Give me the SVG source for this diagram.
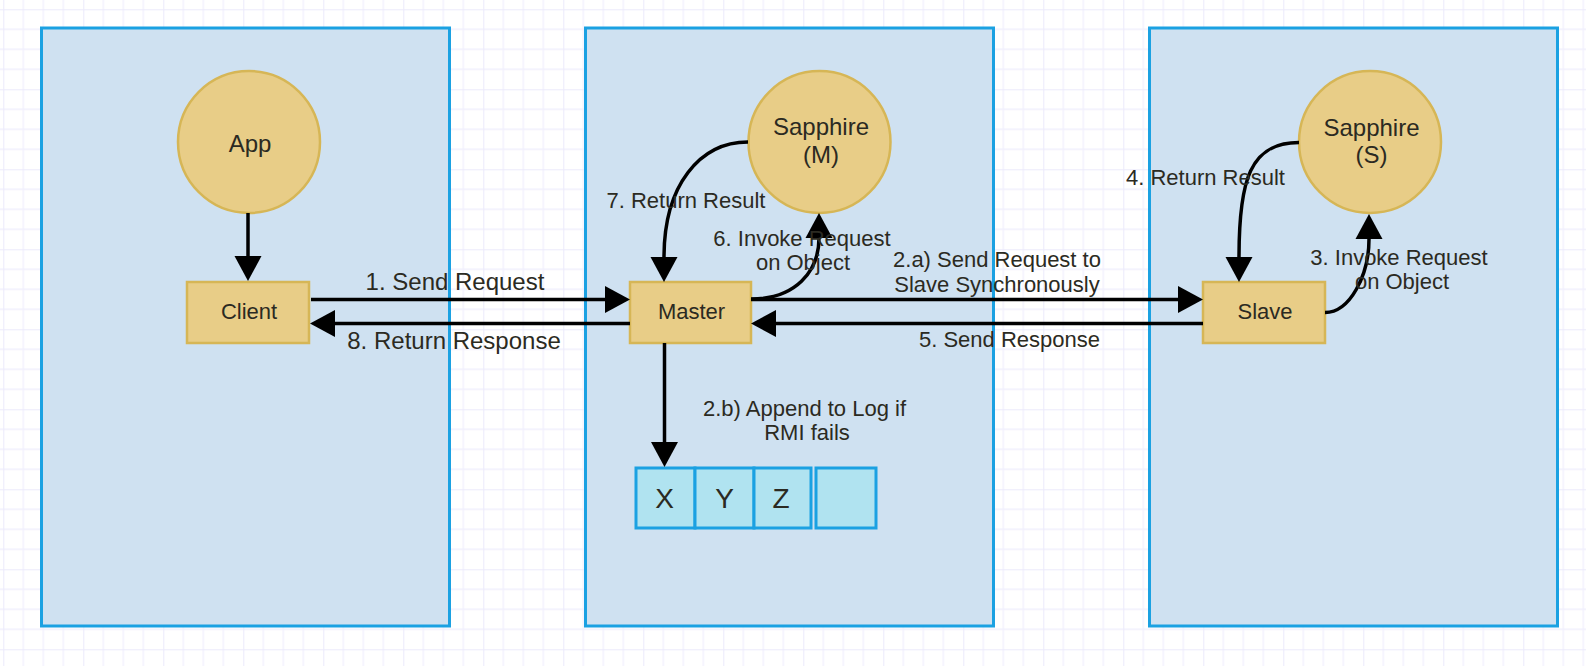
<svg xmlns="http://www.w3.org/2000/svg" width="1586" height="666" viewBox="0 0 1586 666">
<defs>
<pattern id="grid" patternUnits="userSpaceOnUse" x="3.3" y="9.3" width="80" height="80">
<path d="M20,0 V80 M40,0 V80 M60,0 V80 M0,20 H80 M0,40 H80 M0,60 H80" stroke="#f1f0fd" stroke-width="1.3" fill="none"/>
<path d="M0,0 V80 M0,0 H80" stroke="#ebeafb" stroke-width="2" fill="none"/>
</pattern>
<marker id="ah" markerUnits="userSpaceOnUse" markerWidth="26" markerHeight="28" refX="0" refY="13.5" orient="auto" overflow="visible">
<path d="M0,0 L25,13.5 L0,27 Z" fill="#000"/>
</marker>
</defs>
<style>
.panel{fill:#cfe1f1;stroke:#1ba1e2;stroke-width:3}
.circ{fill:#e8cd87;stroke:#d6b656;stroke-width:2.5}
.box{fill:#e8cd87;stroke:#d6b656;stroke-width:2.5}
.cell{fill:#b0e3f0;stroke:#1ba1e2;stroke-width:3}
.edge{fill:none;stroke:#000;stroke-width:3.5;marker-end:url(#ah)}
text{font-family:"Liberation Sans",Arial,Helvetica,sans-serif;fill:#2b2a22;text-anchor:middle}
.nl{font-size:22px}
.cl{font-size:24px}
.el{font-size:22px}
.big{font-size:24px}
.q{font-size:28px}
</style>
<rect width="1586" height="666" fill="#ffffff"/>
<rect width="1586" height="666" fill="url(#grid)"/>

<g id="panel-client"><rect class="panel" x="41.5" y="28" width="408" height="598"/></g>
<g id="panel-master"><rect class="panel" x="585.5" y="28" width="408" height="598"/></g>
<g id="panel-slave"><rect class="panel" x="1149.5" y="28" width="408" height="598"/></g>

<g id="app"><circle class="circ" cx="249" cy="142" r="71"/><text class="cl" x="250" y="151.5">App</text></g>
<g id="client"><rect class="box" x="187" y="282" width="122" height="61"/><text class="nl" x="249" y="319">Client</text></g>
<g id="sapphire-m"><circle class="circ" cx="819.5" cy="142" r="71"/><text class="cl" x="821" y="135">Sapphire</text><text class="cl" x="821" y="163">(M)</text></g>
<g id="master"><rect class="box" x="630" y="282" width="121" height="61"/><text class="nl" x="691.5" y="319">Master</text></g>
<g id="sapphire-s"><circle class="circ" cx="1370" cy="142" r="71"/><text class="cl" x="1371.5" y="135.5">Sapphire</text><text class="cl" x="1371.5" y="163">(S)</text></g>
<g id="slave"><rect class="box" x="1203" y="282" width="122" height="61"/><text class="nl" x="1265" y="319">Slave</text></g>
<g id="log">
<rect class="cell" x="636" y="468" width="59" height="60"/>
<rect class="cell" x="695" y="468" width="59" height="60"/>
<rect class="cell" x="754" y="468" width="57" height="60"/>
<rect class="cell" x="816" y="468" width="60" height="60"/>
<text class="q" x="664.5" y="507.5">X</text>
<text class="q" x="724.5" y="507.5">Y</text>
<text class="q" x="781" y="507.5">Z</text>
</g>

<g id="connectors">
<path class="edge" d="M248,213 L248,256"/>
<path class="edge" d="M311,299.5 L605,299.5"/>
<path class="edge" d="M630,323.5 L335,323.5"/>
<path class="edge" d="M751,299.5 L1178,299.5"/>
<path class="edge" d="M1203,323.5 L776,323.5"/>
<path class="edge" d="M751,299 C795,299 819,272 819,238"/>
<path class="edge" d="M748,142 C700,142 664,185 664,257"/>
<path class="edge" d="M664.5,343 L664.5,442"/>
<path class="edge" d="M1325,312.5 C1350,312.5 1369,275 1369,239"/>
<path class="edge" d="M1299,142.5 C1250,142.5 1239,180 1239,257"/>
<text class="big" x="455" y="289.5">1. Send Request</text>
<text class="big" x="454" y="348.5">8. Return Response</text>
<text class="el" x="997" y="266.5">2.a) Send Request to</text>
<text class="el" x="997" y="291.5">Slave Synchronously</text>
<text class="el" x="1100" y="346.5" style="text-anchor:end">5. Send Response</text>
<text class="el" x="686" y="207.5">7. Return Result</text>
<text class="el" x="802" y="246">6. Invoke Request</text>
<text class="el" x="803" y="269.5">on Object</text>
<text class="el" x="1205.5" y="185">4. Return Result</text>
<text class="el" x="1399" y="265">3. Invoke Request</text>
<text class="el" x="1402" y="288.5">on Object</text>
<text class="el" x="804.5" y="416">2.b) Append to Log if</text>
<text class="el" x="807" y="439.5">RMI fails</text>
</g>
</svg>
